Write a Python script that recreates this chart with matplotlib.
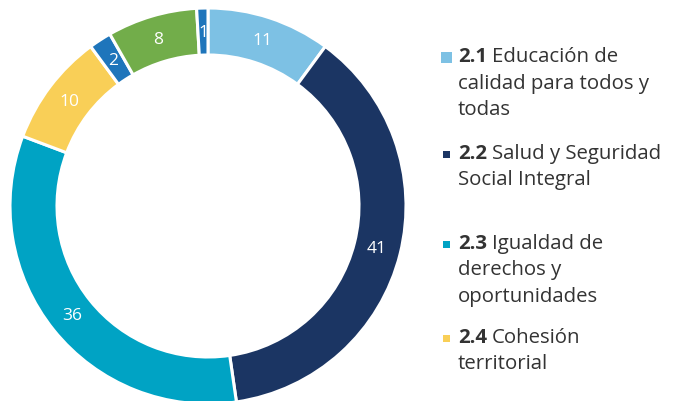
import matplotlib
matplotlib.use('Agg')
import matplotlib.pyplot as plt

plt.rcParams['font.family'] = ['Open Sans', 'DejaVu Sans']

values = [11, 41, 36, 10, 2, 8, 1]
colors = ['#7DC1E4', '#1B3563', '#00A3C4', '#F9CF57', '#1E75BB', '#72AD4A', '#1E75BB']

legend_codes = ['2.1', '2.2', '2.3', '2.4']
legend_lines = [
    ['Educación de', 'calidad para todos y', 'todas'],
    ['Salud y Seguridad', 'Social Integral'],
    ['Igualdad de', 'derechos y', 'oportunidades'],
    ['Cohesión', 'territorial'],
]
legend_colors = ['#7DC1E4', '#1B3563', '#00A3C4', '#F9CF57']

W, H = 673, 402
cx, cy = 208, 207
R = 198

fig = plt.figure(figsize=(W / 100, H / 100), dpi=100)
ax = fig.add_axes([0, 0, 1, 1])
ax.axis('off')

total = sum(values)
wedges, texts, autotexts = ax.pie(
    values, colors=colors, radius=R, startangle=90, counterclock=False,
    wedgeprops=dict(width=47, edgecolor='white', linewidth=2.2),
    autopct=lambda p: f'{round(p * total / 100):d}', pctdistance=0.88,
    textprops=dict(color='white', fontsize=12.5))
ax.set_xlim(-cx, W - cx)
ax.set_ylim(-(H - cy), cy)
ax.set_aspect('auto')


def px(x, y):
    return x - cx, cy - y


renderer = fig.canvas.get_renderer()
item_y = [57, 154, 244, 338]
sq_size = [11, 7, 7, 7]
line_h = 26.5
fs = 14.7
text_color = '#333333'
for code, lines, col, y0, s in zip(legend_codes, legend_lines, legend_colors, item_y, sq_size):
    x, y = px(446.5, y0 + 1)
    ax.add_patch(plt.Rectangle((x - s / 2, y - s / 2), s, s, color=col, lw=0))
    tx, ty = px(458, y0)
    t = ax.text(tx, ty, code, fontsize=fs, fontweight='bold', color=text_color, va='center')
    bb = t.get_window_extent(renderer)
    ax.text(tx + bb.width + 5, ty, lines[0], fontsize=fs, color=text_color, va='center')
    for i, ln in enumerate(lines[1:], start=1):
        ax.text(tx, ty - i * line_h, ln, fontsize=fs, color=text_color, va='center')

fig.savefig('out.png', dpi=100)
